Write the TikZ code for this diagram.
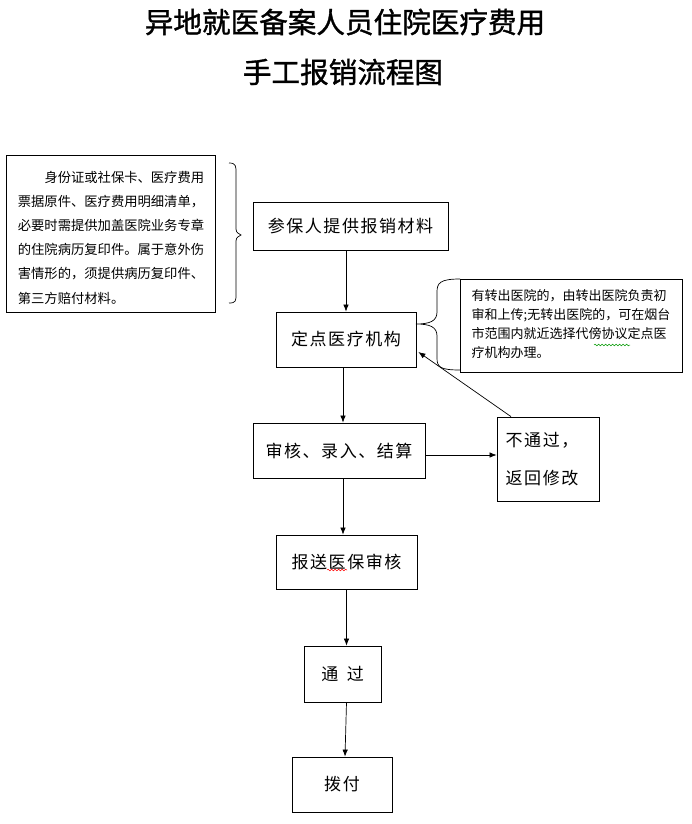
\documentclass[tikz,border=0pt]{standalone}
\usepackage{fontspec}
\newfontfamily\cjk{Noto Sans CJK SC}
\newfontfamily\cjksp{Noto Sans CJK SC}[LetterSpace=9]
\newfontfamily\cjktitle{Noto Sans CJK SC}[FakeBold=1.2]
\usetikzlibrary{arrows.meta,decorations.pathmorphing}
\begin{document}
\begin{tikzpicture}[x=1pt,y=-1pt,
  box/.style={draw,line width=0.8pt,inner sep=0pt,font=\cjksp\fontsize{17}{20}\selectfont},
  arr/.style={line width=0.7pt,-{Latex[length=7pt,width=5.5pt]}},
  brace/.style={line width=0.7pt},
  wavy/.style={decorate,decoration={snake,amplitude=0.8pt,segment length=3.5pt},line width=0.5pt}]
\useasboundingbox (0,0) rectangle (691,824);
\fill[white] (0,0) rectangle (691,824);
% title
\node[font=\cjktitle\fontsize{28.6}{30}\selectfont] (t1) at (345,22) {异地就医备案人员住院医疗费用};
\node[font=\cjktitle\fontsize{28.6}{30}\selectfont] (t2) at (343,72) {手工报销流程图};
% left note
\node[draw,line width=0.8pt,minimum width=209pt,minimum height=157pt,inner sep=0pt] (ln) at (110.5,233.5) {};
\node[font=\cjk\fontsize{13.3}{24.2}\selectfont,align=left,inner sep=0pt] (lt) at (111,237.5) {%
\hspace*{26.6pt}身份证或社保卡、医疗费用\\
票据原件、医疗费用明细清单，\\
必要时需提供加盖医院业务专章\\
的住院病历复印件。属于意外伤\\
害情形的，须提供病历复印件、\\
第三方赔付材料。};
\draw[brace] (229,163) .. controls (236,163) and (236,166) .. (236,173) -- (236,226)
  .. controls (236,232) .. (241,235) .. controls (236,238) .. (236,244) -- (236,294)
  .. controls (236,301) and (236,303) .. (229,303);
% right note
\node[draw,line width=0.8pt,minimum width=222pt,minimum height=93pt,inner sep=0pt] (rn) at (571,325.5) {};
\node[font=\cjk\fontsize{13}{18.7}\selectfont,align=left,inner sep=0pt] (rt) at (571,324) {%
有转出医院的，由转出医院负责初\\
审和上传;无转出医院的，可在烟台\\
市范围内就近选择代傍协议定点医\\
疗机构办理。};
\draw[brace] (460,279) .. controls (440,279) and (437,283) .. (437,292) -- (437,312)
  .. controls (437,321) and (430,324) .. (416,324) .. controls (430,324) and (437,327) .. (437,336) -- (437,358)
  .. controls (437,367) and (440,370) .. (460,370);
\draw[wavy,green!60!black] (594,345) -- (630,345);
% flow boxes
\node[box,minimum width=195pt,minimum height=48pt] (a) at (350.5,226) {参保人提供报销材料};
\node[box,minimum width=140pt,minimum height=55pt] (b) at (346,339.5) {定点医疗机构};
\node[box,minimum width=172pt,minimum height=55pt] (c) at (339,450.5) {审核、录入、结算};
\node[box,minimum width=102pt,minimum height=84pt,align=left] (g) at (548,459) {不通过，\\[18pt]返回修改\hspace*{12pt}};
\node[box,minimum width=141pt,minimum height=54pt] (d) at (346.5,562) {报送医保审核};
\node[box,minimum width=77pt,minimum height=56pt] (e) at (342.5,674) {通\hspace{0.5em}过};
\node[box,minimum width=100pt,minimum height=55pt] (f) at (342,784.5) {拨付};
\draw[wavy,red] (327,570) -- (347,570);
% connectors
\coordinate (cout) at ([yshift=-4.5pt]c.east);
\draw[arr] (a.south -| b.north) -- (b.north);
\draw[arr] ([xshift=-3pt]b.south) -- ([xshift=-3pt]b.south |- c.north);
\draw[arr] ([xshift=4pt]c.south) -- ([xshift=4pt]c.south |- d.north);
\draw[arr] (d.south) -- ([xshift=4pt]e.north);
\draw[arr] ([xshift=4pt]e.south) -- ([xshift=3pt]f.north);
\draw[arr] (cout) -- (g.west |- cout);
\draw[arr] ([xshift=-37pt]g.north) -- ([yshift=-12.5pt,xshift=2pt]b.east);
\end{tikzpicture}
\end{document}
